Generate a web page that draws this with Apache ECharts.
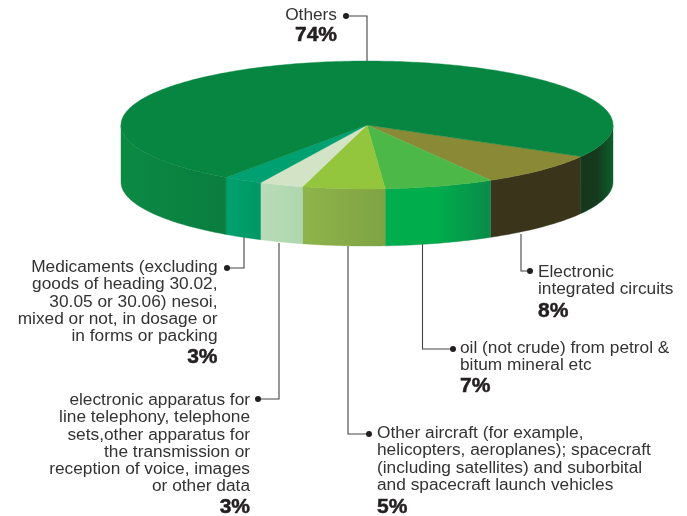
<!DOCTYPE html>
<html><head><meta charset="utf-8">
<style>html,body{margin:0;padding:0;background:#fff}#c{width:687px;height:516px}</style>
<script src="https://cdn.jsdelivr.net/npm/echarts@6/dist/echarts.min.js"></script>
</head><body><div id="c"></div>
<script>
// data, clockwise from the right-hand edge of the Others slice
const categories = [
  'Electronic integrated circuits',
  'oil (not crude) from petrol & bitum mineral etc',
  'Other aircraft (for example, helicopters, aeroplanes); spacecraft (including satellites) and suborbital and spacecraft launch vehicles',
  'electronic apparatus for line telephony, telephone sets,other apparatus for the transmission or reception of voice, images or other data',
  'Medicaments (excluding goods of heading 30.02, 30.05 or 30.06) nesoi, mixed or not, in dosage or in forms or packing',
  'Others'
];
const shares = [8.4, 7.2, 5.4, 2.9, 2.6, 73.5];
const wrappedLabels = [
  'Electronic\nintegrated circuits',
  'oil (not crude) from petrol &\nbitum mineral etc',
  'Other aircraft (for example,\nhelicopters, aeroplanes); spacecraft\n(including satellites) and suborbital\nand spacecraft launch vehicles',
  'electronic apparatus for\nline telephony, telephone\nsets,other apparatus for\nthe transmission or\nreception of voice, images\nor other data',
  'Medicaments (excluding\ngoods of heading 30.02,\n30.05 or 30.06) nesoi,\nmixed or not, in dosage or\nin forms or packing',
  'Others'
];

// styles and layout
const topColors = ['#8a8a36', '#4cb848', '#93c63c', '#d3e3c6', '#00a070', '#078642'];
const sideColors = [
  [['#39341a', '#39341a']],
  [['#00ad4c', '#00ad4c', '#0a8a4a']],
  [['#8fb44a', '#7ea344']],
  [['#b9dcb8', '#aed6ae']],
  [['#00a06c', '#009865']],
  [['#0b8a43', '#0a7d3f'], ['#15371d', '#153a1e', '#0c5f2c']]
];
const CX = 367, CY = 125, RX = 246, RY = 64, DEPTH = 57, START_DEG = 29.6;
const labelLayout = [
  {x: 538, y: 263.5, align: 'left',  pctX: 538, pctY: 311, path: [[521, 234], [521, 271], [530, 271]]},
  {x: 460, y: 339.5, align: 'left',  pctX: 460, pctY: 386, path: [[422.5, 244], [422.5, 349], [453, 349]]},
  {x: 377, y: 424.5, align: 'left',  pctX: 377, pctY: 507, path: [[348, 246], [348, 434], [369, 434]]},
  {x: 250, y: 391.5, align: 'right', pctX: 250, pctY: 507, path: [[279, 243], [279, 399], [258, 399]]},
  {x: 217.5, y: 258.5, align: 'right', pctX: 217.5, pctY: 357, path: [[244, 237], [244, 268], [227, 268]]},
  {x: 337, y: 6.5, align: 'right', pctX: 337, pctY: 35, path: [[367, 61], [367, 16], [346, 16]]}
];

const total = shares.reduce((a, b) => a + b, 0);
const startAngles = [];
shares.reduce((acc, v, i) => { startAngles[i] = acc; return acc + v / total * 360; }, START_DEG);

function pt(deg, dy) {
  const r = deg * Math.PI / 180;
  return [CX + RX * Math.cos(r), CY + RY * Math.sin(r) + (dy || 0)];
}
function arc(a, b, dy) {
  const out = [], n = Math.max(2, Math.ceil(Math.abs(b - a)));
  for (let i = 0; i <= n; i++) out.push(pt(a + (b - a) * i / n, dy));
  return out;
}
function fillOf(stops) {
  return new echarts.graphic.LinearGradient(0, 0, 1, 0,
    stops.map((c, i) => ({offset: i / (stops.length - 1), color: c})));
}
function renderSlice(params, api) {
  const i = params.dataIndex, a = startAngles[i], b = a + api.value(0) / total * 360;
  const children = [];
  let k = 0;
  [[0, 180], [360, 540]].forEach(function (win) {
    const s = Math.max(a, win[0]), e = Math.min(b, win[1]);
    if (e > s) {
      const stops = sideColors[i][Math.min(k, sideColors[i].length - 1)];
      const pts = arc(s, e, 0).concat(arc(e, s, DEPTH));
      children.push({type: 'polygon', shape: {points: pts},
        style: {fill: fillOf(stops), stroke: stops[stops.length - 1], lineWidth: 0.4}});
      k++;
    }
  });
  children.push({type: 'polygon', z2: 5, shape: {points: [[CX, CY]].concat(arc(a, b, 0))},
    style: {fill: topColors[i], stroke: topColors[i], lineWidth: 0.4}});
  return {type: 'group', children: children};
}

const graphics = [];
categories.forEach(function (name, i) {
  const L = labelLayout[i], P = L.path, end = P[P.length - 1];
  graphics.push({type: 'polyline', silent: true, z: 1, shape: {points: P},
    style: {stroke: '#444444', lineWidth: 1.1, fill: null}});
  graphics.push({type: 'circle', silent: true, z: 1, shape: {cx: end[0], cy: end[1], r: 3}, style: {fill: '#231f20'}});
  graphics.push({type: 'text', silent: true, z: 1, x: L.x, y: L.y, style: {
    text: wrappedLabels[i], align: L.align, verticalAlign: 'top',
    font: '17.3px "Liberation Sans", Arial, sans-serif', lineHeight: 17.3, fill: '#333333'}});
  graphics.push({type: 'text', silent: true, z: 1, x: i === 5 ? 316 : L.pctX, y: L.pctY, style: {
    text: Math.round(shares[i]) + '%', align: i === 5 ? 'center' : L.align, verticalAlign: 'middle',
    font: 'bold 21px "Liberation Sans", Arial, sans-serif', fill: '#231f20',
    stroke: '#231f20', lineWidth: 0.5}});
});

const chart = echarts.init(document.getElementById('c'), null, {renderer: 'canvas'});
chart.setOption({
  animation: false,
  backgroundColor: '#ffffff',
  graphic: {elements: graphics},
  series: [{
    type: 'custom',
    coordinateSystem: 'none',
    silent: true,
    z: 5,
    renderItem: renderSlice,
    data: shares.map((v, i) => ({name: categories[i], value: [v]}))
  }]
});
</script></body></html>
